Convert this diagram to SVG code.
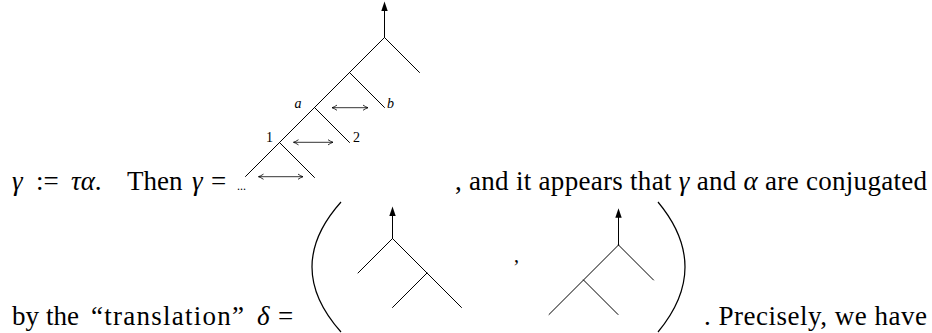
<svg xmlns="http://www.w3.org/2000/svg" width="932" height="333" viewBox="0 0 932 333">
<defs>
<style>
.e{fill:none;stroke:#000;stroke-width:1;stroke-linecap:round}
.da{fill:none;stroke:#000;stroke-width:0.8;marker-start:url(#dh);marker-end:url(#dh)}
.par{fill:none;stroke:#000;stroke-width:1.2}
</style>
<marker id="dh" viewBox="-6 -4 7 8" refX="0" refY="0" markerWidth="7" markerHeight="8" markerUnits="userSpaceOnUse" orient="auto-start-reverse">
<path d="M -5 -2.6 Q -2 -0.6 0 0 Q -2 0.6 -5 2.6" fill="none" stroke="#000" stroke-width="0.8"/>
</marker>
</defs>
<rect width="932" height="333" fill="#fff"/>

<g id="tree-gamma" font-family="Liberation Serif, DejaVu Serif, serif" font-size="14">
<path class="e" d="M384.5 37.5 V9 M384.5 37.5 L245.5 176.5 M384.5 37.5 L419.5 72.5 M349.5 72.5 L384.5 107.5 M314.5 107.5 L349.5 142.5 M279.5 142.5 L314.5 177.5"/>
<polygon points="384.5,1.5 381.3,11 387.7,11" fill="#000"/>
<text x="294.5" y="108" font-style="italic">a</text>
<text x="387" y="108" font-style="italic">b</text>
<text x="266" y="142">1</text>
<text x="353" y="142">2</text>
</g>

<g id="connectors">
<line class="da" x1="332" y1="107.7" x2="368" y2="107.7"/>
<line class="da" x1="293.5" y1="142.3" x2="333" y2="142.3"/>
<line class="da" x1="258.5" y1="176.7" x2="303" y2="176.7"/>
</g>

<g id="tree-delta-left">
<path class="e" d="M392.5 238.5 V214 M392.5 238.5 L358 273 M392.5 238.5 L461.5 307.5 M427 273 L392.5 307.5"/>
<polygon points="392.5,206.5 389.3,216 395.7,216" fill="#000"/>
</g>

<g id="tree-delta-right">
<path class="e" d="M618.5 245 V216 M618.5 245 L653.5 280 M618.5 245 L549 314.5 M583.5 280 L618 314.5"/>
<polygon points="618.5,208.3 615.3,217.8 621.7,217.8" fill="#000"/>
</g>

<g id="parens">
<path class="par" d="M341 202 Q 283 267 341 332"/>
<path class="par" d="M658 202 Q 712 267 658 332"/>
</g>

<g id="text" font-family="Liberation Serif, DejaVu Serif, serif" font-size="27" fill="#000">
<text y="190"><tspan x="12" font-style="italic">γ</tspan><tspan x="36">:=</tspan><tspan x="71" font-style="italic">τα</tspan><tspan>.</tspan><tspan x="127">Then</tspan><tspan x="192" font-style="italic">γ</tspan><tspan x="211">=</tspan></text>
<text x="237" y="190" font-size="12">...</text>
<text x="455" y="190" textLength="472" lengthAdjust="spacing">, and it appears that <tspan font-style="italic">γ</tspan> and <tspan font-style="italic">α</tspan> are conjugated</text>
<text x="514" y="262" font-size="20">,</text>
<text y="325"><tspan x="12">by</tspan><tspan x="46">the</tspan><tspan x="91" textLength="153" lengthAdjust="spacing">“translation”</tspan><tspan x="257" font-style="italic">δ</tspan><tspan x="278">=</tspan></text>
<text x="704" y="325" textLength="223" lengthAdjust="spacing">. Precisely, we have</text>
</g>
</svg>
